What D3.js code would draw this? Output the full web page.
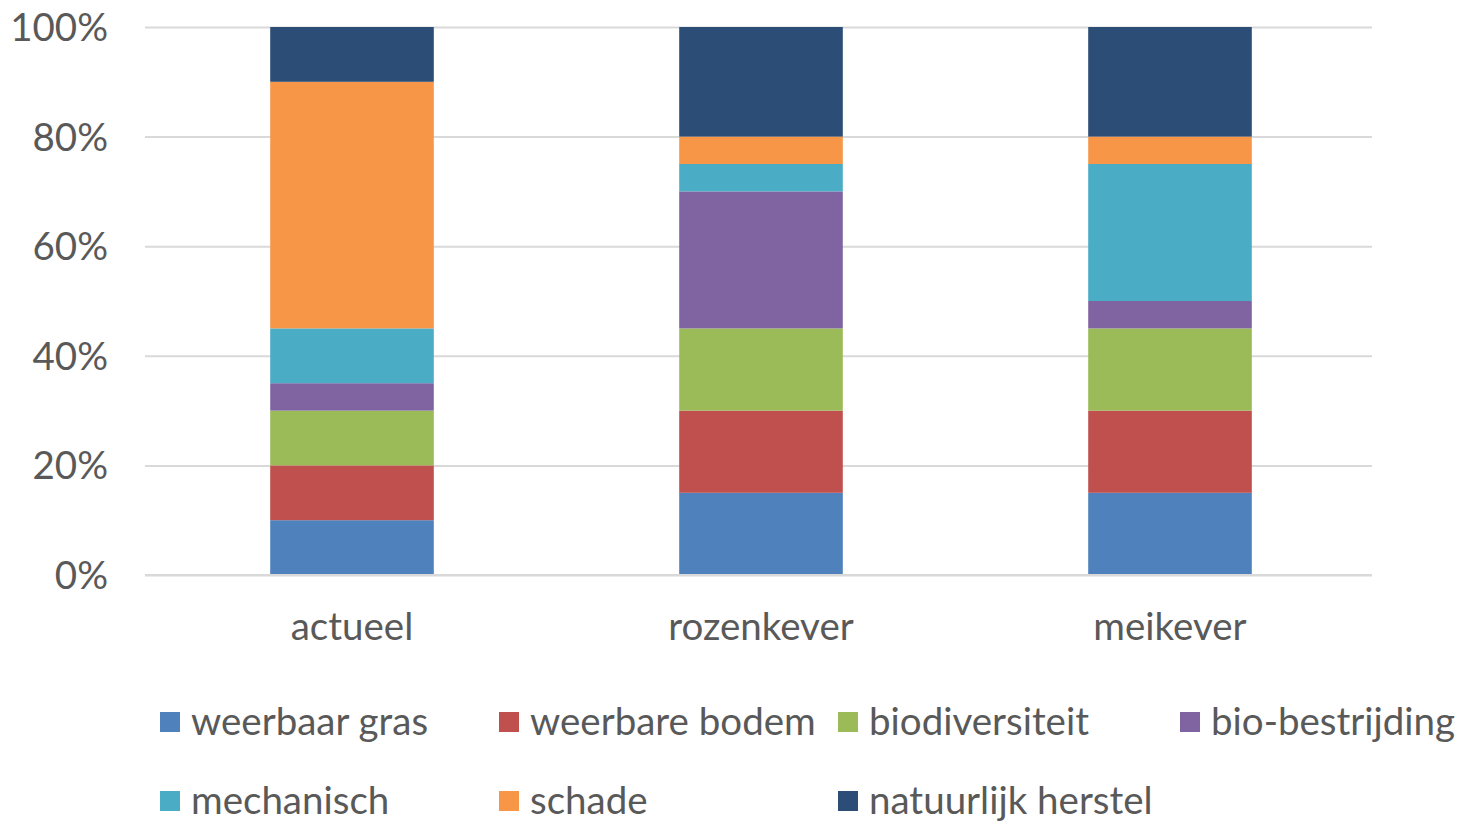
<!DOCTYPE html>
<html><head><meta charset="utf-8">
<script src="https://cdn.jsdelivr.net/npm/d3@7"></script>
<style>body{margin:0;background:#fff}svg{display:block}text{font-family:Lato,"Open Sans",sans-serif;fill:#595959}</style>
</head><body><svg id="c" width="1462" height="822"></svg>
<script>
const categories = ["actueel", "rozenkever", "meikever"];
const seriesNames = ["weerbaar gras", "weerbare bodem", "biodiversiteit", "bio-bestrijding", "mechanisch", "schade", "natuurlijk herstel"];
const weerbaarGras = [10, 15, 15];
const weerbareBodem = [10, 15, 15];
const biodiversiteit = [10, 15, 15];
const bioBestrijding = [5, 25, 5];
const mechanisch = [10, 5, 25];
const schade = [45, 5, 5];
const natuurlijkHerstel = [10, 20, 20];
const colors = ["#4F81BD", "#C0504D", "#9BBB59", "#8064A2", "#4BACC6", "#F79646", "#2C4D75"];
const tickValues = [0, 0.2, 0.4, 0.6, 0.8, 1.0];

const seriesValues = [weerbaarGras, weerbareBodem, biodiversiteit, bioBestrijding, mechanisch, schade, natuurlijkHerstel];
const rows = categories.map((c, i) => {
  const r = {cat: c};
  seriesNames.forEach((s, j) => r[s] = seriesValues[j][i]);
  return r;
});
const stacked = d3.stack().keys(seriesNames).offset(d3.stackOffsetExpand)(rows);

const svg = d3.select("#c");
const L = 145, R = 1372, T = 27, B = 575;
const FS = "38.5px";
const x = d3.scaleBand().domain(categories).range([L + 2.5, R + 2.5]).paddingInner(0.6).paddingOuter(0.3);
const y = d3.scaleLinear().domain([0, 1]).range([B, T]);

const yAxis = svg.append("g").attr("transform", `translate(${L},0)`)
  .call(d3.axisLeft(y).tickValues(tickValues).tickFormat(d3.format(".0%")).tickSize(-(R - L)).tickPadding(37));
yAxis.select(".domain").remove();
yAxis.selectAll("line").attr("stroke", "#D9D9D9").attr("stroke-width", 2);
yAxis.selectAll("text").style("font-size", FS).attr("dy", "0.35em").attr("fill", "#595959");

svg.append("g").selectAll("g").data(stacked).join("g").attr("fill", (d, i) => colors[i])
  .selectAll("rect").data(d => d).join("rect")
  .attr("x", d => x(d.data.cat)).attr("width", x.bandwidth())
  .attr("y", d => y(d[1])).attr("height", d => y(d[0]) - y(d[1]));

svg.append("line").attr("x1", L).attr("x2", R).attr("y1", B).attr("y2", B)
  .attr("stroke", "#D9D9D9").attr("stroke-width", 2);
const xAxis = svg.append("g").attr("transform", `translate(0,${B})`)
  .call(d3.axisBottom(x).tickSize(0).tickPadding(38));
xAxis.select(".domain").remove();
xAxis.selectAll("text").style("font-size", FS).attr("fill", "#595959");

const legX = [160, 499, 838, 1180];
const legY = [722, 801];
const leg = svg.append("g").selectAll("g").data(seriesNames).join("g")
  .attr("transform", (d, i) => `translate(${legX[i % 4]},${legY[Math.floor(i / 4)]})`);
leg.append("rect").attr("x", 0).attr("y", -10).attr("width", 20).attr("height", 20).attr("fill", (d, i) => colors[i]);
leg.append("text").attr("x", 31).attr("dy", "0.35em").style("font-size", FS).text(d => d);
</script></body></html>
